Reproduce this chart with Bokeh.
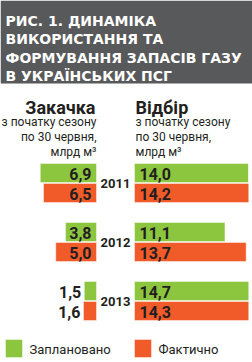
from bokeh.plotting import figure
from bokeh.models import Range1d, ColumnDataSource
from bokeh.core.properties import value
from bokeh.embed import file_html
from bokeh.resources import INLINE

# ---- data ----
years = ["2011", "2012", "2013"]
inject_plan = [6.9, 3.8, 1.5]
inject_fact = [6.5, 5.0, 1.6]
withdraw_plan = [14.0, 11.1, 14.7]
withdraw_fact = [14.2, 13.7, 14.3]
title_lines = ["РИС. 1. ДИНАМІКА", "ВИКОРИСТАННЯ ТА", "ФОРМУВАННЯ ЗАПАСІВ ГАЗУ", "В УКРАЇНСЬКИХ ПСГ"]
left_head = "Закачка"
right_head = "Відбір"
sub_lines = ["з початку сезону", "по 30 червня,", "млрд м³"]
legend_labels = ["Заплановано", "Фактично"]

GREEN = "#8cc63f"
ORANGE = "#f15a29"
DARK = "#231f20"
GRAY = "#58595b"

K = 8.15          # pixels per unit
CX = 115          # pixel of centre
def px(p):
    return (p - CX) / K

GAP = px(134)     # half gap between the two sides (data units)

p = figure(width=252, height=362, output_backend="svg", toolbar_location=None,
           x_range=Range1d(px(0), px(252)), y_range=Range1d(362, 0),
           min_border_left=0, min_border_right=0, min_border_top=0, min_border_bottom=0)
p.axis.visible = False
p.grid.visible = False
p.outline_line_color = None
p.background_fill_color = "white"
p.border_fill_color = "white"

# title band
p.quad(left=px(0), right=px(252), top=0, bottom=83, fill_color=GRAY, line_color=None)
for i, t in enumerate(title_lines):
    p.text(x=px(5), y=20 + i * 18.5, text=[t], text_color="white",
           text_font=value("DejaVu Sans"), text_font_style="bold",
           text_font_size="14px", text_baseline="alphabetic", text_align="left")

# headers
p.text(x=px(95), y=107, text=[left_head], text_color=DARK, text_font=value("Roboto"),
       text_font_style="bold", text_font_size="18px", text_align="right", text_baseline="alphabetic")
p.text(x=px(135), y=107, text=[right_head], text_color=DARK, text_font=value("Roboto"),
       text_font_style="bold", text_font_size="18px", text_align="left", text_baseline="alphabetic")
for i, t in enumerate(sub_lines):
    yy = 121 + i * 15
    p.text(x=px(96), y=yy, text=[t], text_color=DARK, text_font=value("Roboto"),
           text_font_size="12px", text_align="right", text_baseline="alphabetic")
    p.text(x=px(135), y=yy, text=[t], text_color=DARK, text_font=value("Roboto"),
           text_font_size="12px", text_align="left", text_baseline="alphabetic")

# bars
centers = [182.5 + 59 * i for i in range(len(years))]
yp = [c - 10 for c in centers]
yf = [c + 10 for c in centers]
H = 19

src = ColumnDataSource(dict(
    yp=yp, yf=yf,
    lp=[-GAP - v for v in inject_plan], lf=[-GAP - v for v in inject_fact],
    rp=[GAP + v for v in withdraw_plan], rf=[GAP + v for v in withdraw_fact],
))
bar_line = dict(line_color="white", line_alpha=0.45, line_width=1)
p.hbar(y="yp", left="lp", right=-GAP, height=H, fill_color=GREEN, source=src, **bar_line)
p.hbar(y="yf", left="lf", right=-GAP, height=H, fill_color=ORANGE, source=src, **bar_line)
p.hbar(y="yp", left=GAP, right="rp", height=H, fill_color=GREEN, source=src, **bar_line)
p.hbar(y="yf", left=GAP, right="rf", height=H, fill_color=ORANGE, source=src, **bar_line)

# mask beyond the right edge of the bar area
p.quad(left=px(248), right=px(252), top=84, bottom=362, fill_color="white", line_color=None)

def fmt(v):
    return f"{v:.1f}".replace(".", ",")

pad_in = 5 / K
pad_out = 3 / K
for vals, ys in ((inject_plan, yp), (inject_fact, yf)):
    for v, y in zip(vals, ys):
        if v * K > 30:
            x = -GAP - pad_in
        else:
            x = -GAP - v - pad_out
        p.text(x=x, y=y + 1, text=[fmt(v)], text_color=DARK, text_font=value("Roboto"),
               text_font_style="bold", text_font_size="16px", text_align="right",
               text_baseline="middle")
for vals, ys in ((withdraw_plan, yp), (withdraw_fact, yf)):
    for v, y in zip(vals, ys):
        p.text(x=GAP + pad_in, y=y + 1, text=[fmt(v)], text_color=DARK, text_font=value("Roboto"),
               text_font_style="bold", text_font_size="16px", text_align="left",
               text_baseline="middle")

# year labels
p.text(x=[0] * len(years), y=centers, text=years, text_color=DARK, text_font=value("Roboto"),
       text_font_style="bold", text_font_size="13px", text_align="center", text_baseline="middle")

# legend
for i, (lab, col) in enumerate(zip(legend_labels, [GREEN, ORANGE])):
    x0 = 5 + i * 129
    p.quad(left=px(x0), right=px(x0 + 17), top=339, bottom=357, fill_color=col, **bar_line)
    p.text(x=px(x0 + 24), y=349, text=[lab], text_color=DARK, text_font=value("Roboto"),
           text_font_size="13px", text_align="left", text_baseline="middle")

open("out.html", "w").write(file_html(p, INLINE, "chart"))
